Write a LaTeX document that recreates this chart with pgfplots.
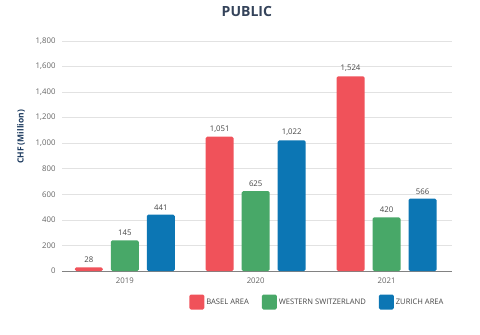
\documentclass[border=0pt]{standalone}
\usepackage{pgfplots}
\pgfplotsset{compat=1.18}
\usepackage{pgfplotstable}
\usepackage{fontspec}
\setmainfont{Open Sans}
\definecolor{cred}{RGB}{240,82,90}
\definecolor{cgreen}{RGB}{72,168,104}
\definecolor{cblue}{RGB}{12,118,180}
\definecolor{titlecol}{RGB}{52,67,90}
\definecolor{ylabcol}{RGB}{30,60,96}
\definecolor{tickcol}{RGB}{100,100,100}
\definecolor{labcol}{RGB}{70,70,70}
\definecolor{gridgray}{RGB}{226,226,226}
\definecolor{axisgray}{RGB}{130,130,130}
\pgfplotstableread{
x y lab
0 28 28
1 1051 1,051
2 1524 1,524
}\basel
\pgfplotstableread{
x y lab
0 240 145
1 625 625
2 420 420
}\western
\pgfplotstableread{
x y lab
0 441 441
1 1022 1,022
2 566 566
}\zurich
\begin{document}
\begin{tikzpicture}[x=1pt,y=1pt]
\useasboundingbox (-62,-64) rectangle (418,271);
\begin{axis}[at={(0,0)}, anchor=south west, scale only axis,
  width=390pt, height=230pt,
  xmin=-0.48, xmax=2.5, ymin=0, ymax=1800,
  ytick={0,200,...,1800},
  xtick={0,1,2}, xticklabels={2019,2020,2021},
  ybar=8pt, bar width=28pt,
  ymajorgrids, grid style={draw=gridgray, line width=0.6pt},
  axis x line*=bottom, axis y line*=left,
  y axis line style={draw=none},
  x axis line style={draw=axisgray, line width=0.8pt},
  major tick length=0pt,
  ticklabel style={font=\fontsize{7.8}{9}\selectfont, text=tickcol},
  xticklabel style={yshift=-3pt},
  yticklabel style={xshift=-3pt},
  ylabel={CHF (Million)},
  ylabel style={at={(rel axis cs:-0.105,0.583)}, anchor=center, font=\bfseries\fontsize{8.5}{10}\selectfont, text=ylabcol},
  title={PUBLIC},
  title style={at={(rel axis cs:0.474,1)}, anchor=center, yshift=24pt, font=\bfseries\fontsize{14}{16}\selectfont, text=titlecol},
  nodes near coords, point meta=explicit symbolic,
  every node near coord/.append style={font=\fontsize{7.8}{9}\selectfont, text=labcol, yshift=1pt},
  legend style={at={(rel axis cs:0.655,-0.135)}, anchor=center, legend columns=-1, draw=none, fill=none,
    font=\fontsize{7.6}{8}\selectfont, text=labcol,
    /tikz/every even column/.append style={column sep=11pt}},
  legend image code/.code={\fill[#1] (0pt,-7.5pt) rectangle (15pt,7.5pt);},
  /pgf/number format/.cd, 1000 sep={,}, assume math mode=true
]
\addplot[fill=cred, draw=none, rounded corners=1.5pt] table[x=x,y=y,meta=lab] {\basel};
\addplot[fill=cgreen, draw=none, rounded corners=1.5pt] table[x=x,y=y,meta=lab] {\western};
\addplot[fill=cblue, draw=none, rounded corners=1.5pt] table[x=x,y=y,meta=lab] {\zurich};
\legend{BASEL AREA, WESTERN SWITZERLAND, ZURICH AREA}
\end{axis}
\end{tikzpicture}
\end{document}
